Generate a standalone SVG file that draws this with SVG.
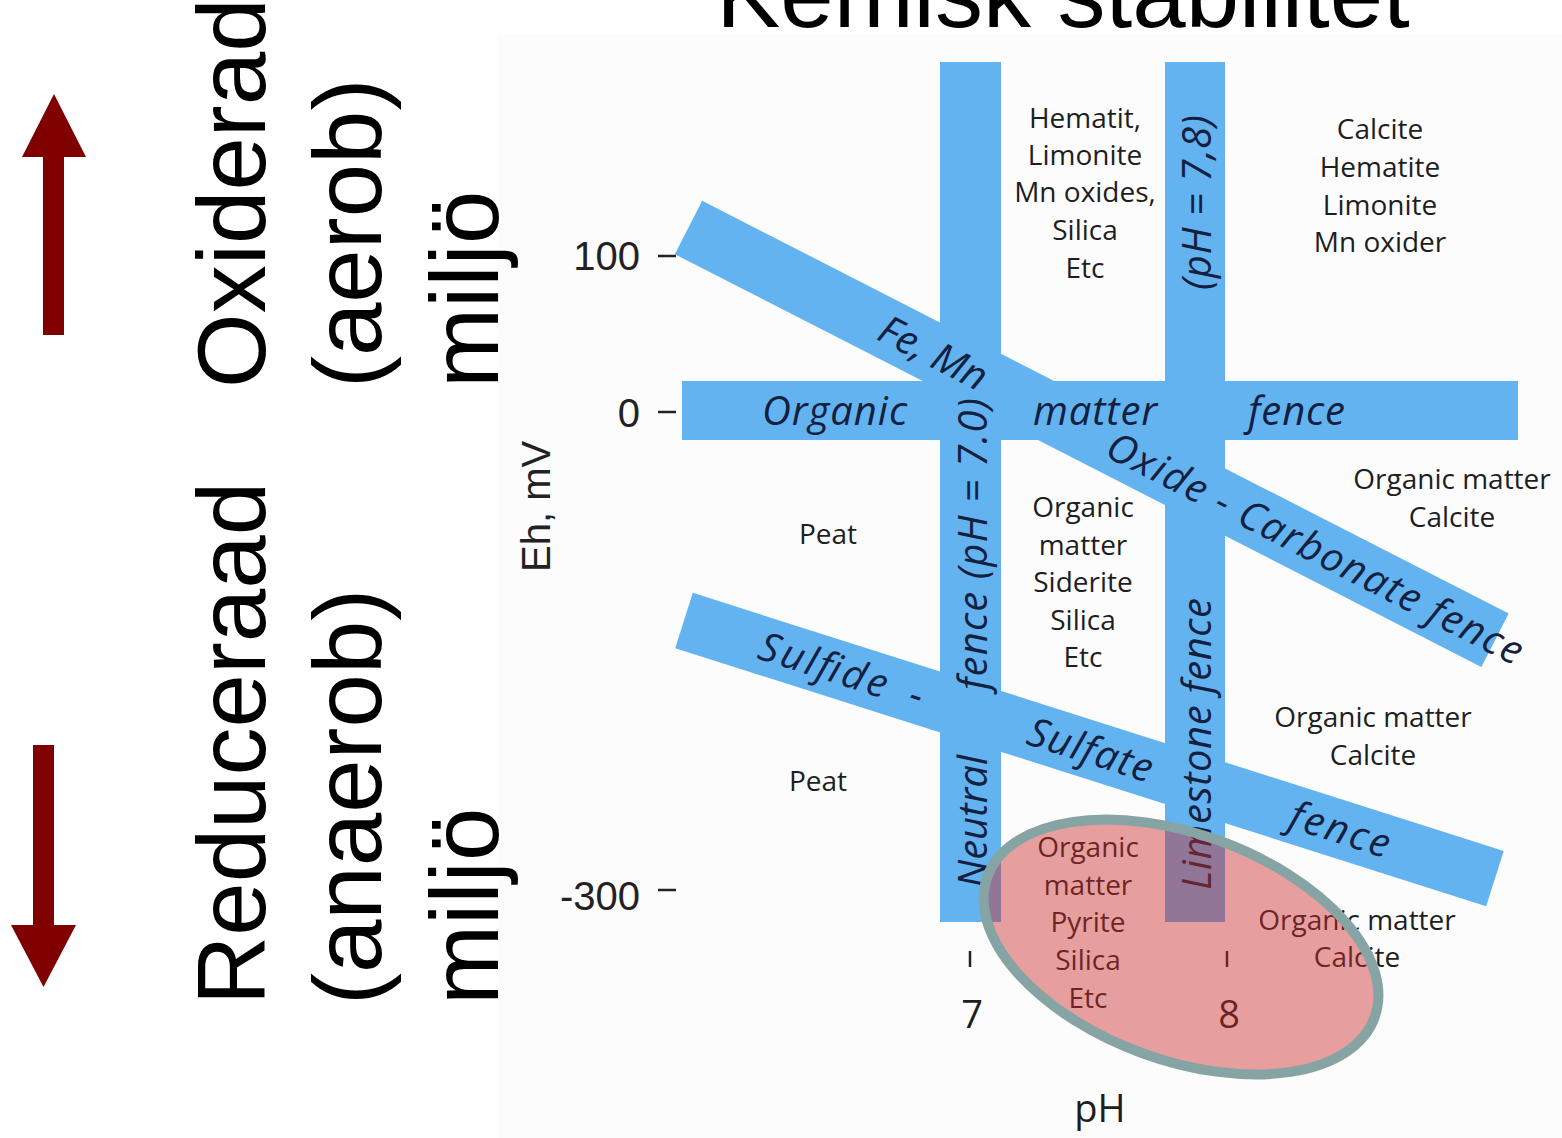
<svg xmlns="http://www.w3.org/2000/svg" width="1562" height="1138" viewBox="0 0 1562 1138">
<style>
.big{font-family:"Liberation Sans",Arial,sans-serif;font-size:96px;fill:#000}
.ax{font-family:"Liberation Sans",Arial,sans-serif;font-size:40px;fill:#222}
.min{font-family:"Open Sans","Noto Sans",sans-serif;font-size:28px;fill:#1e1e1e;text-anchor:middle}
.num{font-family:"Open Sans","Noto Sans",sans-serif;font-size:38px;fill:#1e1e1e;text-anchor:middle}
.lab{font-family:"Open Sans","Noto Sans",sans-serif;font-style:italic;font-size:40px;fill:#13203f}
.band{fill:#62b3ef}
.tick{stroke:#222;stroke-width:2.5}
.arr{fill:#800000}
</style>
<rect width="1562" height="1138" fill="#fff"/>
<rect x="497" y="35" width="1065" height="1103" fill="#fcfcfc"/>
<g id="title"><text class="big" x="1063" y="27" text-anchor="middle">Kemisk stabilitet</text></g>
<g id="arrow-up"><path class="arr" d="M43,335 V157 H22 L54,94 L86,157 H64 V335 Z"/></g>
<g id="arrow-down"><path class="arr" d="M33,745 V925 H11 L43.5,987 L76,925 H54 V745 Z"/></g>
<g id="label-oxid">
<text class="big" transform="translate(265,388) rotate(-90)">Oxiderad</text>
<text class="big" transform="translate(381,388) rotate(-90)">(aerob)</text>
<text class="big" transform="translate(498,388) rotate(-90)">miljö</text>
</g>
<g id="label-red">
<text class="big" transform="translate(265,1005) rotate(-90)">Reduceraad</text>
<text class="big" transform="translate(381,1005) rotate(-90)">(anaerob)</text>
<text class="big" transform="translate(498,1005) rotate(-90)">miljö</text>
</g>
<g id="bands">
<rect class="band" x="940" y="62" width="61" height="860"/>
<rect class="band" x="1165" y="62" width="60" height="860"/>
<rect class="band" x="682" y="381" width="836" height="59"/>
<rect class="band" x="0" y="-30" width="906" height="60" transform="translate(688.5,227.5) rotate(27.1)"/>
<rect class="band" x="0" y="-29" width="851" height="58" transform="translate(684,620.5) rotate(17.65)"/>
</g>
<g id="band-labels">
<text class="lab" x="762" y="425" textLength="145">Organic</text>
<text class="lab" x="1033" y="425" textLength="124">matter</text>
<text class="lab" x="1248" y="425" textLength="97">fence</text>
<g transform="translate(987,922) rotate(-90)">
<text class="lab" x="34" y="0" textLength="133">Neutral</text>
<text class="lab" x="232" y="0" textLength="292">fence (pH = 7.0)</text>
</g>
<g transform="translate(1211,922) rotate(-90)">
<text class="lab" x="32" y="0" textLength="292">Limestone fence</text>
<text class="lab" x="632" y="0" textLength="175">(pH = 7,8)</text>
</g>
<g transform="translate(688.5,227.5) rotate(27.1)">
<text class="lab" x="217" y="14" textLength="116">Fe, Mn</text>
<text class="lab" x="473" y="14" textLength="462">Oxide - Carbonate fence</text>
</g>
<g transform="translate(684,620.5) rotate(17.65)">
<text class="lab" x="80" y="14" textLength="133">Sulfide</text>
<text class="lab" x="238" y="14">-</text>
<text class="lab" x="362" y="14" textLength="129">Sulfate</text>
<text class="lab" x="637" y="14" textLength="103">fence</text>
</g>
</g>
<g id="regions">
<text class="min" x="1085" y="128">Hematit,</text>
<text class="min" x="1085" y="165">Limonite</text>
<text class="min" x="1085" y="202">Mn oxides,</text>
<text class="min" x="1085" y="240">Silica</text>
<text class="min" x="1085" y="278">Etc</text>
<text class="min" x="1380" y="139">Calcite</text>
<text class="min" x="1380" y="177">Hematite</text>
<text class="min" x="1380" y="215">Limonite</text>
<text class="min" x="1380" y="252">Mn oxider</text>
<text class="min" x="1452" y="489">Organic matter</text>
<text class="min" x="1452" y="527">Calcite</text>
<text class="min" x="1083" y="517">Organic</text>
<text class="min" x="1083" y="555">matter</text>
<text class="min" x="1083" y="592">Siderite</text>
<text class="min" x="1083" y="630">Silica</text>
<text class="min" x="1083" y="667">Etc</text>
<text class="min" x="828" y="544">Peat</text>
<text class="min" x="818" y="791">Peat</text>
<text class="min" x="1373" y="727">Organic matter</text>
<text class="min" x="1373" y="765">Calcite</text>
<text class="min" x="1088" y="857">Organic</text>
<text class="min" x="1088" y="895">matter</text>
<text class="min" x="1088" y="932">Pyrite</text>
<text class="min" x="1088" y="970">Silica</text>
<text class="min" x="1088" y="1008">Etc</text>
<text class="min" x="1357" y="930">Organic matter</text>
<text class="min" x="1357" y="967">Calcite</text>
</g>
<g id="axes">
<text class="ax" x="640" y="270" text-anchor="end">100</text>
<text class="ax" x="640" y="427" text-anchor="end">0</text>
<text class="ax" x="640" y="910" text-anchor="end">-300</text>
<line class="tick" x1="658" y1="256" x2="676" y2="256"/>
<line class="tick" x1="658" y1="412" x2="676" y2="412"/>
<line class="tick" x1="658" y1="890" x2="676" y2="890"/>
<text class="ax" font-size="38" transform="translate(550,572) rotate(-90)">Eh, mV</text>
<line class="tick" x1="970" y1="951" x2="970" y2="967"/>
<line class="tick" x1="1227" y1="951" x2="1227" y2="967"/>
<text class="num" x="972" y="1028">7</text>
<text class="num" x="1229" y="1028">8</text>
<text class="num" x="1100" y="1122">pH</text>
</g>
<g id="highlight">
<ellipse cx="1181" cy="947" rx="206" ry="113" transform="rotate(20 1181 947)" fill="#cc2c2c" fill-opacity="0.45" stroke="#87a4a4" stroke-width="10"/>
</g>
</svg>
